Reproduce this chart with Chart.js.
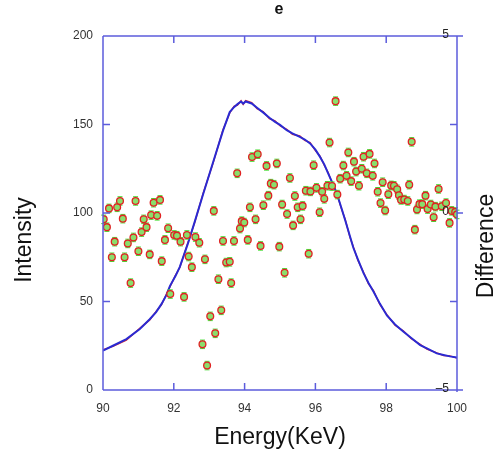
<!DOCTYPE html>
<html>
<head>
<meta charset="utf-8">
<script src="https://cdn.jsdelivr.net/npm/chart.js@4/dist/chart.umd.min.js"></script>
<style>
  html, body { margin: 0; padding: 0; background: #ffffff; }
  #wrap { width: 502px; height: 461px; position: relative; }
</style>
</head>
<body>
<div id="wrap"><canvas id="c" width="502" height="461"></canvas></div>
<script>
// ---- data ----
const chartTitle = 'e';
const xTitle = 'Energy(KeV)';
const yTitle = 'Intensity';
const y2Title = 'Difference';

const xTicks = [90, 92, 94, 96, 98, 100];
const yTicks = [0, 50, 100, 150, 200];
const y2Labels = [5, 0, -5];
const y2MinorTicks = [2.5, -2.5];

// intensity curves (left axis)
const curveEnergy = [90.00, 90.28, 90.66, 91.04, 91.32, 91.50, 91.65, 91.79, 91.89, 92.05, 92.17, 92.40, 92.59, 92.83, 93.11, 93.39, 93.58, 93.70, 93.80, 93.90, 93.96, 94.03, 94.20, 94.35, 94.53, 94.70, 94.86, 95.00, 95.19, 95.35, 95.56, 95.70, 95.85, 96.00, 96.13, 96.25, 96.36, 96.48, 96.60, 96.72, 96.84, 96.98, 97.07, 97.20, 97.36, 97.50, 97.64, 97.82, 98.02, 98.25, 98.49, 98.70, 98.96, 99.15, 99.43, 99.62, 99.80, 100.00];
const fitCurve = [22.3, 25.0, 28.8, 34.5, 40.0, 44.0, 48.5, 53.6, 58.7, 64.5, 69.6, 82.8, 95.0, 110.7, 128.7, 146.5, 157.0, 159.8, 161.5, 163.0, 161.8, 163.0, 161.9, 159.5, 156.7, 153.8, 151.5, 149.8, 146.8, 145.0, 143.0, 141.5, 139.3, 135.8, 131.7, 127.5, 122.4, 117.0, 111.2, 103.8, 96.0, 86.6, 80.5, 73.8, 66.0, 60.5, 55.6, 48.8, 42.1, 37.0, 32.9, 29.5, 25.4, 23.5, 20.7, 19.8, 19.0, 18.3];
const measuredCurve = [22.8, 24.6, 28.2, 34.9, 39.6, 44.4, 48.1, 54.0, 58.2, 64.9, 69.2, 83.3, 94.6, 111.2, 128.2, 147.0, 156.5, 160.3, 161.0, 163.4, 161.3, 163.5, 162.4, 159.0, 157.2, 153.3, 152.0, 149.3, 147.3, 144.5, 143.5, 141.0, 139.8, 135.3, 132.2, 127.0, 122.9, 116.5, 111.7, 103.3, 96.5, 86.1, 81.0, 73.3, 66.5, 60.0, 56.1, 48.3, 42.6, 36.6, 33.3, 29.1, 25.8, 23.1, 21.0, 19.5, 19.3, 18.0];

// difference points (right axis)
const diffEnergy = [90.02, 90.11, 90.17, 90.25, 90.33, 90.40, 90.48, 90.56, 90.61, 90.70, 90.78, 90.86, 90.92, 91.00, 91.09, 91.15, 91.23, 91.32, 91.36, 91.43, 91.53, 91.61, 91.66, 91.75, 91.84, 91.90, 92.01, 92.09, 92.19, 92.29, 92.37, 92.42, 92.51, 92.61, 92.72, 92.81, 92.88, 92.94, 93.03, 93.13, 93.17, 93.26, 93.34, 93.39, 93.48, 93.58, 93.62, 93.70, 93.79, 93.87, 93.92, 93.99, 94.09, 94.15, 94.21, 94.31, 94.37, 94.45, 94.53, 94.62, 94.67, 94.74, 94.83, 94.91, 94.98, 95.06, 95.13, 95.20, 95.28, 95.37, 95.42, 95.50, 95.58, 95.64, 95.73, 95.81, 95.86, 95.95, 96.03, 96.12, 96.19, 96.25, 96.34, 96.40, 96.47, 96.57, 96.62, 96.70, 96.79, 96.88, 96.93, 97.01, 97.09, 97.15, 97.23, 97.31, 97.36, 97.45, 97.53, 97.62, 97.67, 97.76, 97.84, 97.90, 97.97, 98.06, 98.14, 98.22, 98.31, 98.36, 98.42, 98.51, 98.61, 98.65, 98.72, 98.81, 98.87, 98.94, 99.02, 99.11, 99.17, 99.26, 99.34, 99.39, 99.48, 99.57, 99.69, 99.79, 99.85, 99.95, 100.00];
const diffValues = [-0.18, -0.40, 0.13, -1.25, -0.81, 0.16, 0.34, -0.16, -1.25, -0.86, -1.98, -0.69, 0.34, -1.08, -0.54, -0.18, -0.40, -1.17, -0.06, 0.29, -0.08, 0.37, -1.36, -0.76, -0.43, -2.29, -0.62, -0.64, -0.81, -2.37, -0.62, -1.23, -1.53, -0.68, -0.84, -3.71, -1.31, -4.31, -2.92, 0.06, -3.40, -1.87, -2.75, -0.79, -1.40, -1.38, -1.98, -0.79, 1.12, -0.44, -0.23, -0.27, -0.76, 0.16, 1.58, -0.18, 1.66, -0.93, 0.22, 1.33, 0.49, 0.83, 0.80, 1.40, -0.95, 0.24, -1.69, -0.03, 0.99, -0.35, 0.48, 0.16, -0.18, 0.20, 0.63, -1.15, 0.61, 1.35, 0.71, 0.02, 0.60, 0.40, 0.77, 1.99, 0.76, 3.16, 0.52, 0.97, 1.34, 1.05, 1.71, 0.90, 1.45, 1.17, 0.77, 1.25, 1.59, 1.12, 1.67, 1.05, 1.40, 0.60, 0.28, 0.87, 0.07, 0.53, 0.78, 0.77, 0.67, 0.50, 0.37, 0.38, 0.34, 0.80, 2.01, -0.47, 0.10, 0.25, 0.25, 0.49, 0.11, 0.24, -0.12, 0.18, 0.68, 0.19, 0.28, -0.28, 0.06, 0.03, -0.04];
const diffError = 0.12;

// ---- build chart ----
const FONT = '"Liberation Sans", Arial, Helvetica, sans-serif';
const frameColor = '#5c5cdc';

const errorBars = {
  id: 'errorBars',
  beforeDatasetDraw(chart, args) {
    if (args.index !== 0) return;
    const {ctx} = chart;
    const xs = chart.scales.x, ys = chart.scales.y2;
    ctx.save();
    ctx.strokeStyle = '#44dd33';
    ctx.lineWidth = 1;
    diffEnergy.forEach((e, i) => {
      const px = xs.getPixelForValue(e);
      const top = ys.getPixelForValue(diffValues[i] + diffError);
      const bot = ys.getPixelForValue(diffValues[i] - diffError);
      ctx.beginPath();
      ctx.moveTo(px, top); ctx.lineTo(px, bot);
      ctx.moveTo(px - 2.5, top); ctx.lineTo(px + 2.5, top);
      ctx.moveTo(px - 2.5, bot); ctx.lineTo(px + 2.5, bot);
      ctx.stroke();
    });
    ctx.restore();
  }
};

const framePlugin = {
  id: 'framePlugin',
  afterDraw(chart) {
    const {ctx, chartArea: a} = chart;
    const xs = chart.scales.x, ys = chart.scales.y, y2 = chart.scales.y2;
    ctx.save();
    ctx.strokeStyle = frameColor;
    ctx.lineWidth = 1.5;
    ctx.beginPath();
    // frame
    ctx.moveTo(a.left, a.top); ctx.lineTo(a.right + 6, a.top);
    ctx.moveTo(a.left, a.bottom); ctx.lineTo(a.right + 6, a.bottom);
    ctx.moveTo(a.left, a.top); ctx.lineTo(a.left, a.bottom);
    ctx.moveTo(a.right, a.top); ctx.lineTo(a.right, a.bottom + 2);
    // left ticks inward
    yTicks.slice(1, -1).forEach(v => {
      const py = ys.getPixelForValue(v);
      ctx.moveTo(a.left, py); ctx.lineTo(a.left + 7, py);
    });
    // bottom / top ticks inward
    xTicks.slice(1, -1).forEach(v => {
      const px = xs.getPixelForValue(v);
      ctx.moveTo(px, a.bottom); ctx.lineTo(px, a.bottom - 7);
      ctx.moveTo(px, a.top); ctx.lineTo(px, a.top + 7);
    });
    // right axis ticks
    y2MinorTicks.forEach(v => {
      const py = y2.getPixelForValue(v);
      ctx.moveTo(a.right, py); ctx.lineTo(a.right - 7, py);
    });
    const p0 = y2.getPixelForValue(0);
    ctx.moveTo(a.right, p0); ctx.lineTo(a.right + 6, p0);
    ctx.stroke();

    // right axis labels (inside)
    ctx.fillStyle = '#222222';
    ctx.font = '12px ' + FONT;
    ctx.textAlign = 'right';
    ctx.textBaseline = 'middle';
    y2Labels.forEach(v => {
      const txt = v < 0 ? '\u2013' + String(-v) : String(v);
      ctx.fillText(txt, a.right - 8, y2.getPixelForValue(v) - 1);
    });

    // axis titles
    ctx.fillStyle = '#111111';
    ctx.font = '23px ' + FONT;
    ctx.textAlign = 'center';
    ctx.save();
    ctx.translate(25, 240);
    ctx.rotate(-Math.PI / 2);
    ctx.fillText(yTitle, 0, 0);
    ctx.restore();
    ctx.save();
    ctx.translate(487, 246);
    ctx.rotate(-Math.PI / 2);
    ctx.fillText(y2Title, 0, 0);
    ctx.restore();

    // title
    ctx.font = 'bold 16px ' + FONT;
    ctx.fillStyle = '#111111';
    ctx.fillText(chartTitle, 279, 10);
    ctx.restore();
  }
};

new Chart(document.getElementById('c'), {
  data: {
    datasets: [
      {
        type: 'scatter',
        label: 'Difference',
        data: diffEnergy.map((e, i) => ({x: e, y: diffValues[i]})),
        yAxisID: 'y2',
        pointRadius: 3.4,
        pointBorderWidth: 1.3,
        pointBackgroundColor: '#8ade6c',
        pointBorderColor: '#e02222',
        showLine: false
      },
      {
        type: 'line',
        label: 'Fit',
        data: curveEnergy.map((e, i) => ({x: e, y: fitCurve[i]})),
        yAxisID: 'y',
        borderColor: '#2a2ad2',
        borderWidth: 2,
        pointRadius: 0,
        tension: 0,
        fill: false
      },
      {
        type: 'line',
        label: 'Measured',
        data: curveEnergy.map((e, i) => ({x: e, y: measuredCurve[i]})),
        yAxisID: 'y',
        borderColor: '#e02a2a',
        borderWidth: 1.4,
        pointRadius: 0,
        tension: 0,
        fill: false
      }
    ]
  },
  options: {
    responsive: false,
    animation: false,
    devicePixelRatio: 1,
    layout: { padding: { top: 36, right: 45, left: 0, bottom: 0 } },
    plugins: {
      legend: { display: false },
      tooltip: { enabled: false },
      title: { display: false }
    },
    scales: {
      x: {
        type: 'linear',
        position: 'bottom',
        min: 90,
        max: 100,
        grid: { display: false, drawTicks: false },
        border: { display: false },
        ticks: {
          stepSize: 2,
          padding: 11,
          color: '#333333',
          font: { family: FONT, size: 12 }
        },
        title: {
          display: true,
          text: xTitle,
          color: '#111111',
          font: { family: FONT, size: 23 },
          padding: { top: 0, bottom: 10 }
        },
        afterFit(s) { s.height = 71; }
      },
      y: {
        type: 'linear',
        position: 'left',
        min: 0,
        max: 200,
        grid: { display: false, drawTicks: false },
        border: { display: false },
        ticks: {
          stepSize: 50,
          padding: 10,
          color: '#333333',
          font: { family: FONT, size: 12 }
        },
        afterFit(s) { s.width = 103; }
      },
      y2: {
        type: 'linear',
        position: 'right',
        min: -5,
        max: 5,
        display: false,
        grid: { display: false }
      }
    }
  },
  plugins: [errorBars, framePlugin]
});
</script>
</body>
</html>
